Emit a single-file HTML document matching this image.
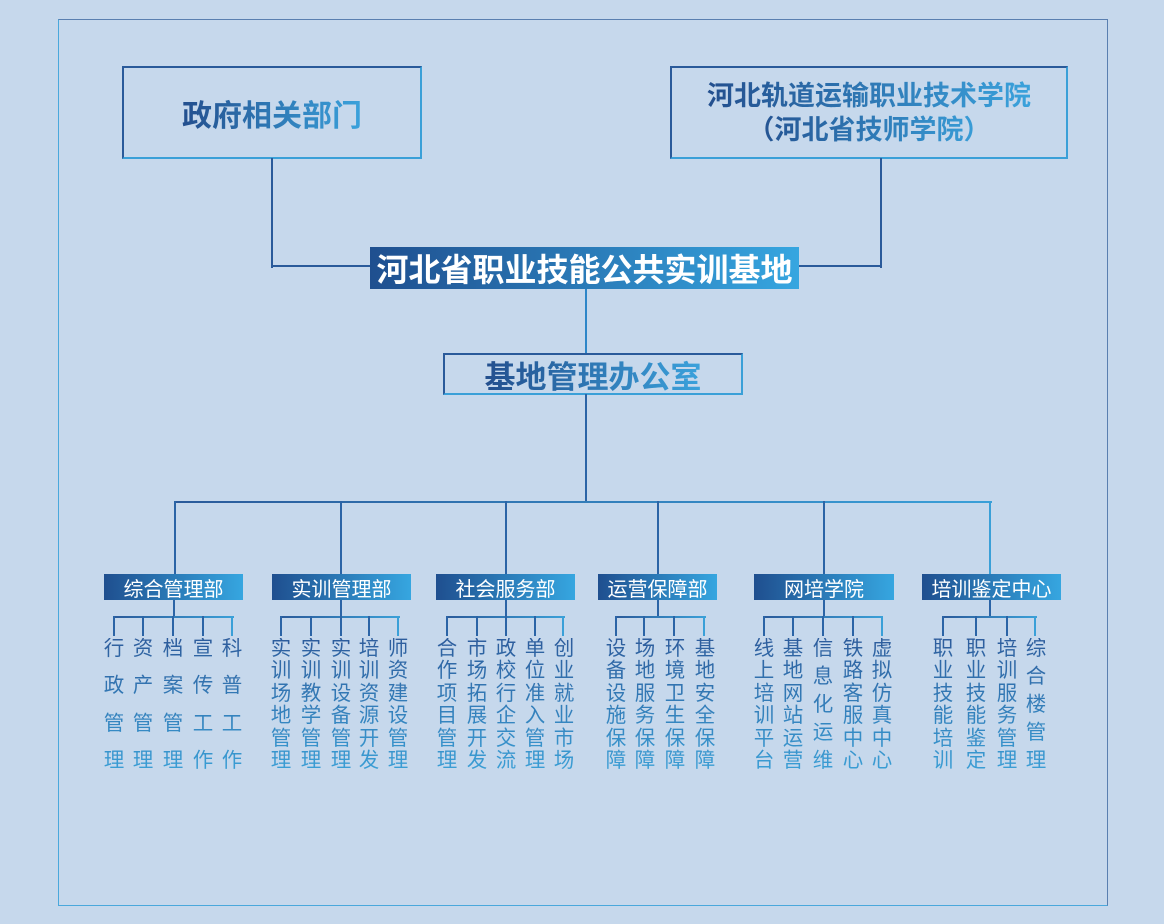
<!DOCTYPE html>
<html><head><meta charset="utf-8"><style>
*{margin:0;padding:0;box-sizing:border-box}
body{width:1164px;height:924px;background:#c6d8ec;position:relative;overflow:hidden;font-family:"Liberation Sans","Noto Sans CJK SC",sans-serif}
.a{position:absolute}
.frame{left:58px;top:19px;width:1050px;height:887px;border:1px solid #5a7fb0;border-left-color:#4aa8dc;border-bottom-color:#4aa8dc}
.box{border:2px solid #2a5a9a;border-right-color:#3aa0d8;border-bottom-color:#3aa0d8;display:flex;align-items:center;justify-content:center;flex-direction:column}
.gt{background:linear-gradient(90deg,#234f8e,#3aa2dc);-webkit-background-clip:text;background-clip:text;color:transparent;font-weight:bold}
.bar{background:linear-gradient(90deg,#1f4f8f,#36a6e0);color:#fff;display:flex;align-items:center;justify-content:center}
.v{position:absolute;width:2px;background:#2b64a6}
.h{position:absolute;height:2px;background:#2b64a6}
.col{position:absolute;top:638px;height:134px;width:22px;margin-left:-11px;display:flex;flex-direction:column;justify-content:space-between;align-items:center;font-size:20.5px;line-height:22px;background:linear-gradient(180deg,#2d5c9c,#3a9fd6);-webkit-background-clip:text;background-clip:text;color:transparent}
</style></head><body>
<div class="a frame"></div>
<div class="a box" style="left:122px;top:66px;width:300px;height:93px"><span class="gt" style="font-size:30px">政府相关部门</span></div>
<div class="a box" style="left:670px;top:66px;width:398px;height:93px"><span class="gt" style="font-size:27px;line-height:34px">河北轨道运输职业技术学院</span><span class="gt" style="font-size:27px;line-height:34px">（河北省技师学院）</span></div>
<div class="v" style="left:271px;top:158px;height:110px;background:#2a5a9a"></div>
<div class="v" style="left:880px;top:158px;height:110px;background:#2a5a9a"></div>
<div class="h" style="left:271px;top:265px;width:100px;background:#2a5a9a"></div>
<div class="h" style="left:798px;top:265px;width:84px;background:#2a5a9a"></div>
<div class="a bar" style="left:370px;top:247px;width:429px;height:42px;font-size:32px;font-weight:bold">河北省职业技能公共实训基地</div>
<div class="v" style="left:585px;top:289px;height:64px;background:#2d86c8"></div>
<div class="a box" style="left:443px;top:353px;width:300px;height:42px"><span class="gt" style="font-size:31px">基地管理办公室</span></div>
<div class="v" style="left:585px;top:394px;height:109px"></div>
<div class="h" style="left:174px;top:501px;width:818px;background:linear-gradient(90deg,#2a5a9a,#3aa0d8)"></div>
<div class="v" style="left:174px;top:501px;height:74px"></div>
<div class="v" style="left:340px;top:501px;height:74px"></div>
<div class="v" style="left:505px;top:501px;height:74px"></div>
<div class="v" style="left:657px;top:501px;height:74px"></div>
<div class="v" style="left:823px;top:501px;height:74px"></div>
<div class="v" style="left:989px;top:501px;height:74px;background:#3aa0d8"></div>

<div class="a bar" style="left:104px;top:574px;width:139px;height:26px;font-size:20px">综合管理部</div>
<div class="a bar" style="left:272px;top:574px;width:139px;height:26px;font-size:20px">实训管理部</div>
<div class="a bar" style="left:436px;top:574px;width:139px;height:26px;font-size:20px">社会服务部</div>
<div class="a bar" style="left:598px;top:574px;width:119px;height:26px;font-size:20px">运营保障部</div>
<div class="a bar" style="left:754px;top:574px;width:140px;height:26px;font-size:20px">网培学院</div>
<div class="a bar" style="left:922px;top:574px;width:139px;height:26px;font-size:20px">培训鉴定中心</div>

<div class="v" style="left:173px;top:600px;height:18px"></div>
<div class="h" style="left:113px;top:616px;width:121px;background:linear-gradient(90deg,#2a5a9a,#3aa0d8)"></div>
<div class="v" style="left:113px;top:616px;height:20px"></div><div class="v" style="left:142px;top:616px;height:20px"></div><div class="v" style="left:172px;top:616px;height:20px"></div><div class="v" style="left:202px;top:616px;height:20px"></div><div class="v" style="left:231px;top:616px;height:20px;background:#3aa0d8"></div>

<div class="v" style="left:340px;top:600px;height:18px"></div>
<div class="h" style="left:280px;top:616px;width:120px;background:linear-gradient(90deg,#2a5a9a,#3aa0d8)"></div>
<div class="v" style="left:280px;top:616px;height:20px"></div><div class="v" style="left:310px;top:616px;height:20px"></div><div class="v" style="left:340px;top:616px;height:20px"></div><div class="v" style="left:368px;top:616px;height:20px"></div><div class="v" style="left:397px;top:616px;height:20px;background:#3aa0d8"></div>

<div class="v" style="left:505px;top:600px;height:18px"></div>
<div class="h" style="left:446px;top:616px;width:119px;background:linear-gradient(90deg,#2a5a9a,#3aa0d8)"></div>
<div class="v" style="left:446px;top:616px;height:20px"></div><div class="v" style="left:476px;top:616px;height:20px"></div><div class="v" style="left:505px;top:616px;height:20px"></div><div class="v" style="left:534px;top:616px;height:20px"></div><div class="v" style="left:562px;top:616px;height:20px;background:#3aa0d8"></div>

<div class="v" style="left:657px;top:600px;height:18px"></div>
<div class="h" style="left:615px;top:616px;width:91px;background:linear-gradient(90deg,#2a5a9a,#3aa0d8)"></div>
<div class="v" style="left:615px;top:616px;height:20px"></div><div class="v" style="left:643px;top:616px;height:20px"></div><div class="v" style="left:673px;top:616px;height:20px"></div><div class="v" style="left:703px;top:616px;height:20px;background:#3aa0d8"></div>

<div class="v" style="left:823px;top:600px;height:18px"></div>
<div class="h" style="left:763px;top:616px;width:120px;background:linear-gradient(90deg,#2a5a9a,#3aa0d8)"></div>
<div class="v" style="left:763px;top:616px;height:20px"></div><div class="v" style="left:792px;top:616px;height:20px"></div><div class="v" style="left:822px;top:616px;height:20px"></div><div class="v" style="left:852px;top:616px;height:20px"></div><div class="v" style="left:881px;top:616px;height:20px;background:#3aa0d8"></div>

<div class="v" style="left:989px;top:600px;height:18px"></div>
<div class="h" style="left:942px;top:616px;width:95px;background:linear-gradient(90deg,#2a5a9a,#3aa0d8)"></div>
<div class="v" style="left:942px;top:616px;height:20px"></div><div class="v" style="left:975px;top:616px;height:20px"></div><div class="v" style="left:1006px;top:616px;height:20px"></div><div class="v" style="left:1034px;top:616px;height:20px;background:#3aa0d8"></div>

<div class="col" style="left:114px"><span>行</span><span>政</span><span>管</span><span>理</span></div>
<div class="col" style="left:143px"><span>资</span><span>产</span><span>管</span><span>理</span></div>
<div class="col" style="left:173px"><span>档</span><span>案</span><span>管</span><span>理</span></div>
<div class="col" style="left:203px"><span>宣</span><span>传</span><span>工</span><span>作</span></div>
<div class="col" style="left:232px"><span>科</span><span>普</span><span>工</span><span>作</span></div>

<div class="col" style="left:281px"><span>实</span><span>训</span><span>场</span><span>地</span><span>管</span><span>理</span></div>
<div class="col" style="left:311px"><span>实</span><span>训</span><span>教</span><span>学</span><span>管</span><span>理</span></div>
<div class="col" style="left:341px"><span>实</span><span>训</span><span>设</span><span>备</span><span>管</span><span>理</span></div>
<div class="col" style="left:369px"><span>培</span><span>训</span><span>资</span><span>源</span><span>开</span><span>发</span></div>
<div class="col" style="left:398px"><span>师</span><span>资</span><span>建</span><span>设</span><span>管</span><span>理</span></div>

<div class="col" style="left:447px"><span>合</span><span>作</span><span>项</span><span>目</span><span>管</span><span>理</span></div>
<div class="col" style="left:477px"><span>市</span><span>场</span><span>拓</span><span>展</span><span>开</span><span>发</span></div>
<div class="col" style="left:506px"><span>政</span><span>校</span><span>行</span><span>企</span><span>交</span><span>流</span></div>
<div class="col" style="left:535px"><span>单</span><span>位</span><span>准</span><span>入</span><span>管</span><span>理</span></div>
<div class="col" style="left:564px"><span>创</span><span>业</span><span>就</span><span>业</span><span>市</span><span>场</span></div>

<div class="col" style="left:616px"><span>设</span><span>备</span><span>设</span><span>施</span><span>保</span><span>障</span></div>
<div class="col" style="left:645px"><span>场</span><span>地</span><span>服</span><span>务</span><span>保</span><span>障</span></div>
<div class="col" style="left:675px"><span>环</span><span>境</span><span>卫</span><span>生</span><span>保</span><span>障</span></div>
<div class="col" style="left:705px"><span>基</span><span>地</span><span>安</span><span>全</span><span>保</span><span>障</span></div>

<div class="col" style="left:764px"><span>线</span><span>上</span><span>培</span><span>训</span><span>平</span><span>台</span></div>
<div class="col" style="left:793px"><span>基</span><span>地</span><span>网</span><span>站</span><span>运</span><span>营</span></div>
<div class="col" style="left:823px"><span>信</span><span>息</span><span>化</span><span>运</span><span>维</span></div>
<div class="col" style="left:853px"><span>铁</span><span>路</span><span>客</span><span>服</span><span>中</span><span>心</span></div>
<div class="col" style="left:882px"><span>虚</span><span>拟</span><span>仿</span><span>真</span><span>中</span><span>心</span></div>

<div class="col" style="left:943px"><span>职</span><span>业</span><span>技</span><span>能</span><span>培</span><span>训</span></div>
<div class="col" style="left:976px"><span>职</span><span>业</span><span>技</span><span>能</span><span>鉴</span><span>定</span></div>
<div class="col" style="left:1007px"><span>培</span><span>训</span><span>服</span><span>务</span><span>管</span><span>理</span></div>
<div class="col" style="left:1036px"><span>综</span><span>合</span><span>楼</span><span>管</span><span>理</span></div>
</body></html>
